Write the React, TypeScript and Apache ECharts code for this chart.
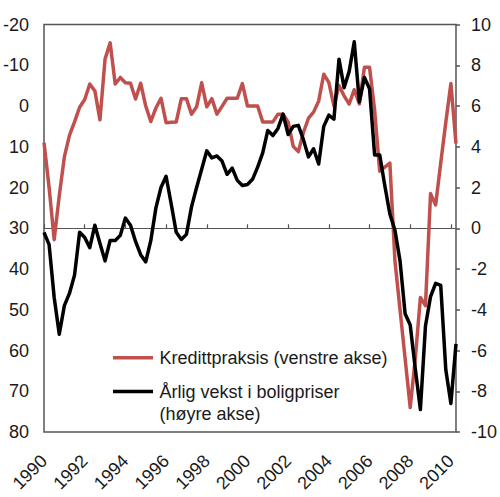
import { useEffect, useRef } from 'react'
import * as echarts from 'echarts'

// Kvartalsdata 1990K1 - 2010K2
const years = [1990, 1991, 1992, 1993, 1994, 1995, 1996, 1997, 1998, 1999, 2000,
  2001, 2002, 2003, 2004, 2005, 2006, 2007, 2008, 2009, 2010]

const quarters: string[] = []
years.forEach((y) => {
  for (let q = 1; q <= 4; q++) quarters.push(`${y}K${q}`)
})
const categories = quarters.slice(0, 82)

// Kredittpraksis (venstre akse, invertert)
const kredittpraksis = [
  9, 20, 32.8, 22, 12.5, 7.2, 3.9, 0.3, -1.6, -5.4,
  -3.7, 3.4, -11.5, -15.5, -5.4, -7, -5.7, -5.6, -1.7, -5.6,
  0, 3.8, 0.5, -1.9, 4.1, 4, 3.9, -1.8, -1.8, 2,
  0.2, -5.7, 0.2, -1.8, 2, 0.1, -1.9, -1.9, -1.9, -5.5,
  0, 0, 0, 3.9, 3.9, 3.9, 2, 2, 3.9, 9.9,
  11.2, 6.5, 3, 1.5, -1.2, -7.8, -5.8, 0, -5, -2.5,
  -0.5, -4, -0.5, -9.5, -9.5, 1, 16, 15, 14, 38,
  50, 62, 74, 62, 47, 49, 21.5, 24.3, 14, 4,
  -5.5, 9.2
]

// Årlig vekst i boligpriser (høyre akse)
const boligpriser = [
  -0.2, -0.8, -3.4, -5.2, -3.8, -3.2, -2.3, -0.2, -0.45, -0.95,
  0.15, -0.75, -1.6, -0.6, -0.6, -0.35, 0.5, 0.15, -0.65, -1.3,
  -1.65, -0.6, 1.0, 2.0, 2.55, 1.2, -0.2, -0.55, -0.3, 1.05,
  2.0, 2.9, 3.8, 3.45, 3.55, 3.3, 2.65, 2.95, 2.35, 2.1,
  2.15, 2.4, 3.0, 3.7, 4.8, 4.55, 4.9, 5.6, 4.6, 5.0,
  5.05, 4.35, 3.5, 3.9, 3.15, 5.0, 5.55, 5.35, 8.3, 6.9,
  7.7, 9.15, 6.2, 7.4, 6.85, 3.6, 3.6, 2.1, 0.7, -0.1,
  -1.6, -4.2, -4.75, -6.9, -8.9, -4.8, -3.35, -2.7, -2.8, -6.95,
  -8.6, -5.67
]

const RED = '#C0504D'
const FONT = 'Liberation Sans, Arial, sans-serif'
const TEXT = '#1a1a1a'

const App: React.FC = () => {
  const chartRef = useRef<HTMLDivElement>(null)

  useEffect(() => {
    if (!chartRef.current) return
    const chart = echarts.init(chartRef.current, undefined, { renderer: 'svg' })

    const option = {
      animation: false,
      textStyle: { fontFamily: FONT },
      grid: {
        left: 41,
        right: 41,
        top: 24.5,
        bottom: 65,
        show: true,
        borderColor: '#555',
        borderWidth: 1.5,
        backgroundColor: 'transparent'
      },
      xAxis: [
        {
          type: 'category',
          data: categories,
          boundaryGap: false,
          position: 'bottom',
          axisLine: { show: false, onZero: false },
          axisTick: { show: false },
          splitLine: { show: false },
          axisLabel: {
            interval: 7,
            rotate: 45,
            margin: 26,
            fontSize: 18,
            color: TEXT,
            fontFamily: FONT,
            formatter: (v: string) => v.slice(0, 4)
          }
        },
        {
          type: 'category',
          data: categories,
          boundaryGap: false,
          position: 'bottom',
          axisLine: {
            show: true,
            onZero: true,
            onZeroAxisIndex: 1,
            lineStyle: { color: '#555', width: 1.2 }
          },
          axisTick: {
            show: true,
            inside: true,
            length: 4,
            interval: 7,
            lineStyle: { color: '#555', width: 1.2 }
          },
          axisLabel: { show: false },
          splitLine: { show: false }
        }
      ],
      yAxis: [
        {
          type: 'value',
          inverse: true,
          min: -20,
          max: 80,
          interval: 10,
          position: 'left',
          axisLine: { show: false },
          axisTick: { show: false },
          splitLine: { show: false },
          axisLabel: { fontSize: 18, color: TEXT, fontFamily: FONT, margin: 15 }
        },
        {
          type: 'value',
          min: -10,
          max: 10,
          interval: 2,
          position: 'right',
          axisLine: { show: false },
          axisTick: {
            show: true,
            length: 4,
            lineStyle: { color: '#555', width: 1.5 }
          },
          splitLine: { show: false },
          axisLabel: { fontSize: 18, color: TEXT, fontFamily: FONT, margin: 15 }
        }
      ],
      series: [
        {
          name: 'Kredittpraksis (venstre akse)',
          type: 'line',
          xAxisIndex: 0,
          yAxisIndex: 0,
          data: kredittpraksis,
          symbol: 'none',
          lineStyle: { color: RED, width: 3.5, join: 'round' },
          itemStyle: { color: RED }
        },
        {
          name: 'Årlig vekst i boligpriser (høyre akse)',
          type: 'line',
          xAxisIndex: 0,
          yAxisIndex: 1,
          data: boligpriser,
          symbol: 'none',
          lineStyle: { color: '#000', width: 3.5, join: 'round' },
          itemStyle: { color: '#000' }
        }
      ],
      graphic: [
        {
          type: 'line',
          shape: { x1: 113, y1: 357.7, x2: 153, y2: 357.7 },
          style: { stroke: RED, lineWidth: 3.5 }
        },
        {
          type: 'text',
          x: 159.5,
          y: 357.7,
          style: {
            text: 'Kredittpraksis (venstre akse)',
            fill: TEXT,
            font: `18px ${FONT}`,
            verticalAlign: 'middle'
          }
        },
        {
          type: 'line',
          shape: { x1: 113, y1: 391.5, x2: 153, y2: 391.5 },
          style: { stroke: '#000', lineWidth: 3.5 }
        },
        {
          type: 'text',
          x: 159.5,
          y: 391.5,
          style: {
            text: 'Årlig vekst i boligpriser',
            fill: TEXT,
            font: `18px ${FONT}`,
            verticalAlign: 'middle'
          }
        },
        {
          type: 'text',
          x: 159.5,
          y: 414,
          style: {
            text: '(høyre akse)',
            fill: TEXT,
            font: `18px ${FONT}`,
            verticalAlign: 'middle'
          }
        }
      ]
    }

    chart.setOption(option)
    return () => chart.dispose()
  }, [])

  return (
    <div
      ref={chartRef}
      style={{ position: 'absolute', left: 0, top: 0, width: 500, height: 497, background: '#fff' }}
    />
  )
}

export default App
